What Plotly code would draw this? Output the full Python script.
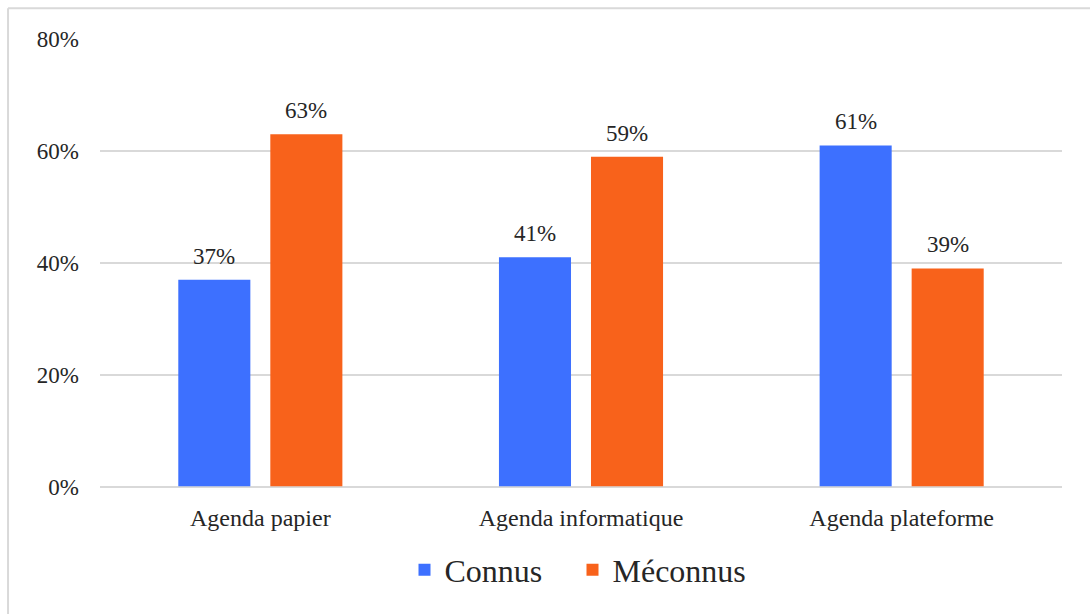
import plotly.graph_objects as go

categories = ["Agenda papier", "Agenda informatique", "Agenda plateforme"]
connus = [37, 41, 61]
meconnus = [63, 59, 39]
series_names = ["Connus", "Méconnus"]
tick_vals = [0, 20, 40, 60, 80]

FONT = "Liberation Serif, Times New Roman, serif"
TXT = "#262626"

fig = go.Figure()
for name, vals, col, lw in [(series_names[0], connus, "#3D70FF", 123),
                            (series_names[1], meconnus, "#F8621B", 140)]:
    fig.add_trace(go.Bar(
        x=categories, y=vals, name=name, marker_color=col, marker_line_width=0,
        legendwidth=lw,
    ))

annotations = []
for vals, shift in [(connus, -46), (meconnus, 46)]:
    for c, v in zip(categories, vals):
        annotations.append(dict(x=c, y=v, xref="x", yref="y", text=f"{v}%", showarrow=False,
                                xshift=shift, yshift=9, yanchor="bottom",
                                font=dict(family=FONT, size=23, color=TXT)))

fig.update_layout(
    width=1090, height=614,
    margin=dict(l=100, r=28, t=39, b=125),
    plot_bgcolor="white", paper_bgcolor="white",
    barmode="group", bargap=0.426, bargroupgap=0.217,
    font=dict(family=FONT, color=TXT),
    showlegend=True,
    legend=dict(orientation="h", x=0.5, xanchor="center", xref="paper",
                yref="container", y=1 - 570 / 614, yanchor="middle",
                font=dict(family=FONT, size=32, color=TXT),
                traceorder="normal"),
    xaxis=dict(tickfont=dict(family=FONT, size=24, color=TXT), showline=False, ticks="",
               showgrid=False, ticklabelstandoff=14),
    yaxis=dict(range=[0, 80.05], tickvals=tick_vals, ticktext=[f"{v}%" for v in tick_vals],
               tickfont=dict(family=FONT, size=23, color=TXT), showgrid=True, gridcolor="#d9d9d9",
               gridwidth=1.5, zeroline=True, zerolinecolor="#d9d9d9", zerolinewidth=2,
               ticks="", ticklabelstandoff=20),
    annotations=annotations,
    shapes=[
        dict(type="line", xref="paper", yref="paper", x0=-0.0956, x1=1.05, y0=1.0689, y1=1.0689,
             line=dict(color="#d9d9d9", width=2)),
        dict(type="line", xref="paper", yref="paper", x0=-0.0956, x1=-0.0956, y0=-0.3, y1=1.0689,
             line=dict(color="#d9d9d9", width=2)),
    ],
)

fig.write_html("out.html", config={"displayModeBar": False},
               post_script="document.body.style.margin='0';")
